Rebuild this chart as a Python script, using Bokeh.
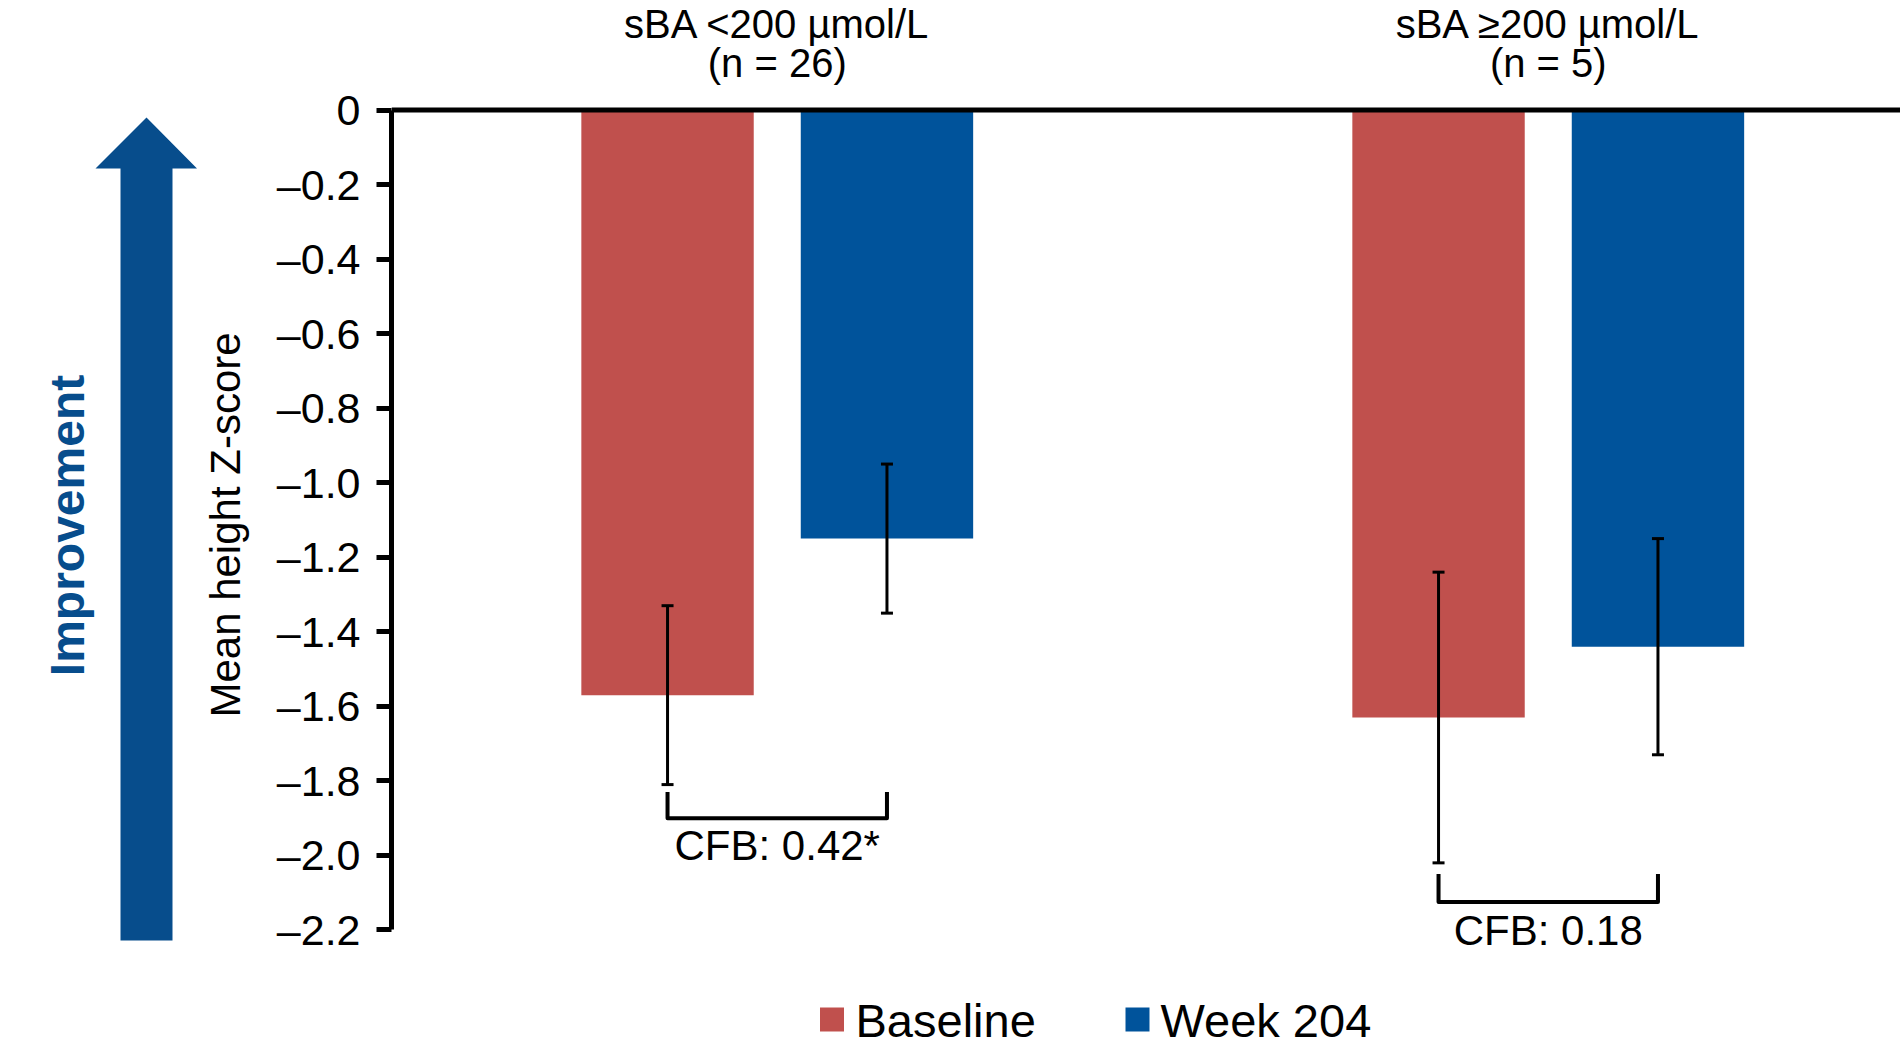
import math
from bokeh.plotting import figure
from bokeh.layouts import row
from bokeh.models import (ColumnDataSource, Range1d, FixedTicker, CustomJSTickFormatter,
                          Span, Whisker, TeeHead)
from bokeh.core.properties import value
from bokeh.embed import file_html
from bokeh.resources import INLINE

# ---------------- data ----------------
groups = ["sBA <200 µmol/L", "sBA ≥200 µmol/L"]
group_n = ["(n = 26)", "(n = 5)"]
series = ["Baseline", "Week 204"]
baseline_mean = [-1.57, -1.63]
baseline_err = [0.24, 0.39]
week204_mean = [-1.15, -1.44]
week204_err = [0.20, 0.29]
cfb_labels = ["CFB: 0.42*", "CFB: 0.18"]
y_ticks = [0, -0.2, -0.4, -0.6, -0.8, -1.0, -1.2, -1.4, -1.6, -1.8, -2.0, -2.2]
y_label = "Mean height Z-score"
improvement_label = "Improvement"

# ---------------- layout / style constants ----------------
FONT = "Liberation Sans"
RED = "#C0504D"
BLUE = "#00539B"
ARROW_BLUE = "#074D8C"
W, H = 1900, 1049
LEFT_W = 197
GROUP_POS = [1.0, 2.0]
OFFSET = 0.1423
BAR_W = 0.2236
X1_PX, PX_PER_X = 776.75, 771.0
Y0_PX, PX_PER_Y = 109.5, 372.7
FRAME_LEFT_PX = 391


def px2x(px):
    return GROUP_POS[0] + (px - X1_PX) / PX_PER_X


def px2y(py):
    return -(py - Y0_PX) / PX_PER_Y


def mid_of(baseline_px, size):
    # vertical centre of capitals for a given baseline
    return px2y(baseline_px - 0.35 * size)


# annotation placement (data units)
bracket_top = [-1.83, -2.05]
bracket_bottom = [-1.90, -2.125]
CFB_SIZE = 42
cfb_y = [mid_of(860, CFB_SIZE), mid_of(945, CFB_SIZE)]
TITLE_SIZE = 40
LEG_SIZE = 47

# ---------------- main figure ----------------
p = figure(width=W - LEFT_W, height=H, output_backend="svg", toolbar_location=None,
           x_range=Range1d(px2x(FRAME_LEFT_PX), px2x(W)),
           y_range=Range1d(px2y(H), px2y(0)),
           x_axis_location=None,
           min_border_left=FRAME_LEFT_PX - LEFT_W, min_border_right=0,
           min_border_top=0, min_border_bottom=0)
p.outline_line_color = None
p.xgrid.visible = False
p.ygrid.visible = False
p.background_fill_color = "white"
p.border_fill_color = "white"

ax = p.yaxis[0]
ax.ticker = FixedTicker(ticks=y_ticks)
ax.formatter = CustomJSTickFormatter(
    code="return tick == 0 ? '0' : '\u2013' + Math.abs(tick).toFixed(1);")
ax.bounds = (min(y_ticks), max(y_ticks))
ax.axis_line_width = 5
ax.axis_line_color = "black"
ax.major_tick_line_width = 5
ax.major_tick_line_color = "black"
ax.major_tick_out = 15
ax.major_tick_in = 0
ax.minor_tick_out = 0
ax.minor_tick_in = 0
ax.major_label_standoff = 16
ax.major_label_text_font = FONT
ax.major_label_text_font_size = "43px"
ax.major_label_text_color = "black"
ax.axis_label = y_label
ax.axis_label_text_font = FONT
ax.axis_label_text_font_size = "42px"
ax.axis_label_text_font_style = "normal"
ax.axis_label_text_color = "black"
ax.axis_label_standoff = 25

bx = [g - OFFSET for g in GROUP_POS]
wx = [g + OFFSET for g in GROUP_POS]

src_b = ColumnDataSource(dict(
    x=bx, bottom=baseline_mean,
    upper=[m + e for m, e in zip(baseline_mean, baseline_err)],
    lower=[m - e for m, e in zip(baseline_mean, baseline_err)]))
src_w = ColumnDataSource(dict(
    x=wx, bottom=week204_mean,
    upper=[m + e for m, e in zip(week204_mean, week204_err)],
    lower=[m - e for m, e in zip(week204_mean, week204_err)]))

p.vbar(x="x", width=BAR_W, top=0, bottom="bottom", source=src_b,
       fill_color=RED, line_color=None)
p.vbar(x="x", width=BAR_W, top=0, bottom="bottom", source=src_w,
       fill_color=BLUE, line_color=None)

for src in (src_b, src_w):
    p.add_layout(Whisker(source=src, base="x", upper="upper", lower="lower",
                         dimension="height", line_width=3, line_color="black",
                         upper_head=TeeHead(size=12, line_width=3, line_color="black"),
                         lower_head=TeeHead(size=12, line_width=3, line_color="black"),
                         level="annotation"))

p.add_layout(Span(location=0, dimension="width", line_color="black", line_width=5))

# CFB brackets
xs = [[b, b, w, w] for b, w in zip(bx, wx)]
ys = [[t, bt, bt, t] for t, bt in zip(bracket_top, bracket_bottom)]
p.multi_line(xs=xs, ys=ys, line_color="black", line_width=4, line_join="round")
p.text(x=GROUP_POS, y=cfb_y, text=cfb_labels, text_font=value(FONT),
       text_font_size=f"{CFB_SIZE}px", text_align="center", text_baseline="middle",
       text_color="black")

# group titles
p.text(x=GROUP_POS, y=[mid_of(37, TITLE_SIZE)] * 2, text=groups, text_font=value(FONT),
       text_font_size=f"{TITLE_SIZE}px", text_align="center", text_baseline="middle",
       text_color="black")
p.text(x=GROUP_POS, y=[mid_of(76, TITLE_SIZE)] * 2, text=group_n, text_font=value(FONT),
       text_font_size=f"{TITLE_SIZE}px", text_align="center", text_baseline="middle",
       text_color="black")

# legend
leg_sq_px = [831.5, 1137]
leg_text_px = [855, 1160]
p.scatter(x=[px2x(v) for v in leg_sq_px], y=[px2y(1019)] * 2, marker="square",
          size=24, fill_color=[RED, BLUE], line_color=None)
p.text(x=[px2x(v) for v in leg_text_px], y=[mid_of(1036, LEG_SIZE)] * 2, text=series,
       text_font=value(FONT), text_font_size=f"{LEG_SIZE}px", text_align="left",
       text_baseline="middle", text_color="black")

# ---------------- left figure: improvement arrow ----------------
lf = figure(width=LEFT_W, height=H, output_backend="svg", toolbar_location=None,
            x_range=Range1d(0, LEFT_W), y_range=Range1d(H, 0),
            x_axis_location=None, y_axis_location=None, min_border=0)
lf.outline_line_color = None
lf.xgrid.visible = False
lf.ygrid.visible = False
arrow_x = [146, 196.5, 172, 172, 120, 120, 95]
arrow_y = [117, 168, 168, 940, 940, 168, 168]
lf.patch(arrow_x, arrow_y, fill_color=ARROW_BLUE, line_color=None)
lf.text(x=[67], y=[525], text=[improvement_label], angle=math.pi / 2,
        text_font=value(FONT), text_font_style="bold", text_font_size="48px",
        text_align="center", text_baseline="middle", text_color=ARROW_BLUE)

layout = row(lf, p)
open("out.html", "w").write(file_html(layout, INLINE))
